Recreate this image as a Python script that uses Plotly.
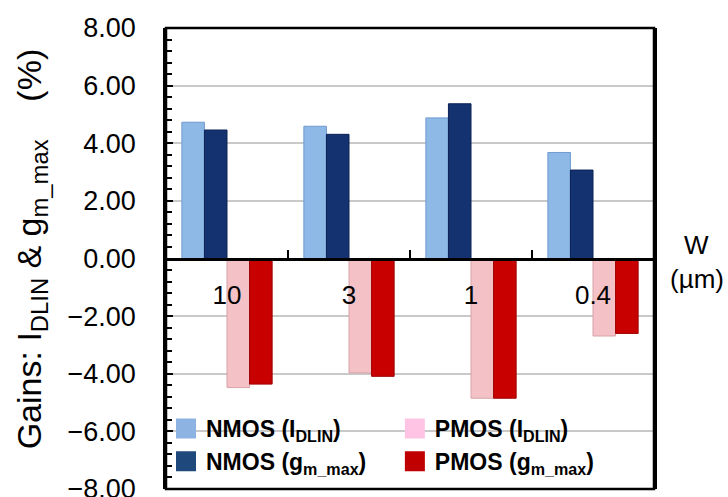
import plotly.graph_objects as go

# ---- data ----
widths = ["10", "3", "1", "0.4"]
nmos_idlin = [4.73, 4.59, 4.88, 3.68]
nmos_gm = [4.46, 4.31, 5.37, 3.07]
pmos_idlin = [-4.48, -3.97, -4.85, -2.69]
pmos_gm = [-4.36, -4.09, -4.85, -2.60]
y_ticks = [-8, -6, -4, -2, 0, 2, 4, 6, 8]

FONT = "Liberation Sans, Arial, sans-serif"
ymin, ymax = -8, 8

fig = go.Figure()
series = [
    # name, values, bar colour, bar edge, legend swatch colour, legend
    ("<b>NMOS (I<sub>DLIN</sub>)</b>", nmos_idlin, "#8EB8E6", "#6F9BCF", "#8DB3E2", "legend"),
    ("<b>NMOS (g<sub>m_max</sub>)</b>", nmos_gm, "#14326F", "#0B2255", "#1F497D", "legend"),
    ("<b>PMOS (I<sub>DLIN</sub>)</b>", pmos_idlin, "#F3C1C6", "#D9A3A8", "#FFC4E4", "legend2"),
    ("<b>PMOS (g<sub>m_max</sub>)</b>", pmos_gm, "#C80000", "#A00000", "#C00000", "legend2"),
]
for name, vals, col, lcol, swatch, lg in series:
    fig.add_trace(go.Bar(
        x=widths, y=vals, name=name,
        marker=dict(color=col, line=dict(color=lcol, width=1)),
        showlegend=False,
    ))
for name, vals, col, lcol, swatch, lg in series:
    # legend swatch only
    fig.add_trace(go.Scatter(
        x=[None], y=[None], name=name, mode="markers",
        marker=dict(symbol="square", size=16, color=swatch,
                    line=dict(color=swatch, width=4)),
        legend=lg, hoverinfo="skip",
    ))

fig.update_layout(
    width=728, height=497,
    margin=dict(l=166, r=74, t=28, b=8, autoexpand=False),
    paper_bgcolor="white", plot_bgcolor="white",
    barmode="group", bargap=0.26, bargroupgap=0,
    font=dict(family=FONT, color="black"),
    legend=dict(
        x=0.0, y=0.178, xanchor="left", yanchor="top",
        bgcolor="rgba(0,0,0,0)", font=dict(size=23, family=FONT),
        tracegroupgap=0,
    ),
    legend2=dict(
        x=0.469, y=0.178, xanchor="left", yanchor="top",
        bgcolor="rgba(0,0,0,0)", font=dict(size=23, family=FONT),
        tracegroupgap=0,
    ),
)

fig.update_yaxes(
    range=[ymin, ymax], tickvals=y_ticks, tickformat=".2f",
    tickfont=dict(size=27, family=FONT),
    ticks="inside", ticklen=7, tickwidth=2, tickcolor="black",
    minor=dict(dtick=0.4, tick0=0, ticks="inside", ticklen=6, tickwidth=2,
               tickcolor="black", showgrid=False),
    showgrid=True, gridcolor="#C9C9C9", gridwidth=1.5,
    zeroline=False,
    showline=True, mirror=True, linecolor="black", linewidth=2.5,
    title=dict(text="&nbsp;&nbsp;Gains: I<sub>DLIN</sub> & g<sub>m_max</sub>&nbsp;&nbsp;&nbsp;&nbsp;(%)",
               font=dict(size=34, family=FONT), standoff=16),
    ticklabelstandoff=22,
    ticklabeloverflow="allow",
    automargin=False,
)

fig.update_xaxes(
    type="category",
    anchor="free", position=(0 - ymin) / (ymax - ymin),
    showline=True, linecolor="black", linewidth=3,
    ticks="inside", tickson="boundaries", ticklen=8, tickwidth=2, tickcolor="black",
    tickfont=dict(size=26, family=FONT),
    ticklabelstandoff=12,
    showgrid=False, zeroline=False,
    automargin=False,
)

# frame top/bottom
fig.add_shape(type="rect", xref="paper", yref="paper", x0=0, x1=1, y0=0, y1=1,
              line=dict(color="black", width=2.5), layer="above")

fig.add_annotation(text="W", xref="paper", yref="paper", x=1.088, y=0.529,
                   xanchor="center", yanchor="middle",
                   showarrow=False, font=dict(size=26, family=FONT))
fig.add_annotation(text="(µm)", xref="paper", yref="paper", x=1.088, y=0.455,
                   xanchor="center", yanchor="middle",
                   showarrow=False, font=dict(size=26, family=FONT))

fig.write_html("out.html", config={"displayModeBar": False},
               post_script="document.body.style.margin='0';document.body.style.padding='0';")
